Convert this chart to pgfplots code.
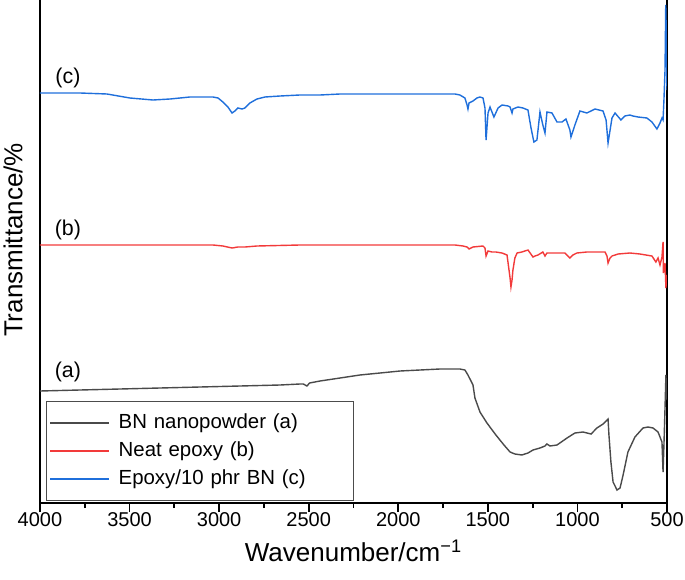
\documentclass[border=0pt]{standalone}
\usepackage{fontspec}
\setmainfont{Liberation Sans}
\usepackage{pgfplots}
\pgfplotsset{compat=1.18}
\definecolor{cA}{HTML}{4A4A4A}
\definecolor{cB}{HTML}{F23A3A}
\definecolor{cC}{HTML}{1F6FDB}
\begin{document}
\begin{tikzpicture}
\begin{axis}[
 name=ax,
 width=313.5pt, height=251.5pt, scale only axis,
 xmin=500, xmax=4000, ymin=0, ymax=503,
 x dir=reverse,
 axis x line*=bottom, axis y line*=box,
 axis line style={line width=1pt},
 ytick=\empty,
 xtick={500,1000,...,4000},
 minor x tick num=1,
 xtick align=outside,
 major tick length=4.5pt, minor tick length=2.5pt,
 every tick/.style={black, line width=0.9pt},
 tick label style={font=\fontsize{10}{12}\selectfont},
 xticklabel style={yshift=3.5pt},
 /pgf/number format/assume math mode=true,
 /pgf/number format/1000 sep={},
 xlabel={Wavenumber/cm\textsuperscript{\char"2212 1}},
 ylabel={Transmittance/\%},
 every axis x label/.style={at={(axis description cs:0.5,-0.0954)}, anchor=center, font=\fontsize{13}{15}\selectfont},
 every axis y label/.style={at={(axis description cs:-0.0431,0.523)}, anchor=center, rotate=90, font=\fontsize{13}{15}\selectfont},
 legend style={at={(axis description cs:0,0)}, anchor=south west, xshift=3pt, yshift=1pt, draw=black!70, line width=0.5pt, font=\fontsize{10.2}{12}\selectfont, inner xsep=1.5pt, inner ysep=3.75pt, row sep=0pt, column sep=2.5pt, nodes={inner sep=2pt, text height=7.5pt, text depth=2.5pt, text width=114pt, align=left}, cells={anchor=west}},
]
\addplot[cA, line width=0.7pt, legend image code/.code={\draw[cA, line width=0.6pt] (0pt,0pt) -- (29.5pt,0pt);}] coordinates {
(4000,112) (3777,113) (3553,114) (3330,115) (3107,116) (2884,117) (2660,118) (2549,119) (2530,119) (2510,117) (2495,120) (2437,122) (2325,125) (2214,128) (2102,130) (1990,132) (1879,133) (1767,134) (1683,134) (1656,134) (1628,133) (1611,128) (1583,118) (1572,105) (1544,91) (1505,80) (1455,68) (1410,58) (1376,51) (1349,49) (1310,48) (1276,50) (1248,53) (1209,55) (1181,57) (1170,59) (1153,57) (1114,58) (1058,65) (1014,70) (969,71) (924,69) (891,75) (857,79) (829,84) (824,68) (813,41) (801,21) (779,13) (762,15) (745,28) (718,51) (679,66) (634,75) (606,76) (578,75) (550,71) (528,61) (522,31) (517,58) (511,95) (506,128) (500,103)
};
\addlegendentry{BN nanopowder (a)}
\addplot[cB, line width=0.7pt, legend image code/.code={\draw[cB, line width=0.6pt] (0pt,0pt) -- (29.5pt,0pt);}] coordinates {
(4000,258) (3777,258) (3553,258) (3274,258) (3034,258) (2979,257) (2928,255) (2895,256) (2856,256) (2789,257) (2549,258) (2325,258) (2102,258) (1879,258) (1683,258) (1639,257) (1616,256) (1605,254) (1594,255) (1583,256) (1527,257) (1516,255) (1510,247) (1499,252) (1477,251) (1455,251) (1421,250) (1393,248) (1387,240) (1376,225) (1371,216) (1365,223) (1360,233) (1349,245) (1337,250) (1310,251) (1276,253) (1248,246) (1237,247) (1220,248) (1193,251) (1181,247) (1170,250) (1125,250) (1070,250) (1042,245) (1025,248) (1003,250) (947,251) (874,251) (846,251) (835,247) (829,240) (818,245) (807,247) (773,249) (707,250) (651,249) (584,247) (562,241) (550,245) (539,238) (528,246) (522,261) (520,230) (511,240) (506,215) (500,228)
};
\addlegendentry{Neat epoxy (b)}
\addplot[cC, line width=0.7pt, legend image code/.code={\draw[cC, line width=0.6pt] (0pt,0pt) -- (29.5pt,0pt);}] coordinates {
(4000,410) (3916,410) (3777,410) (3626,409) (3498,405) (3369,403) (3274,404) (3163,406) (3034,406) (3006,405) (2979,401) (2951,396) (2928,390) (2912,392) (2895,395) (2872,394) (2856,395) (2828,400) (2789,404) (2744,406) (2660,407) (2549,408) (2437,408) (2325,409) (2197,409) (2102,409) (1990,409) (1879,409) (1767,409) (1683,409) (1656,408) (1628,405) (1616,398) (1611,394) (1605,400) (1583,402) (1561,405) (1544,406) (1527,405) (1516,395) (1510,363) (1499,390) (1488,396) (1466,386) (1443,395) (1421,398) (1387,397) (1376,396) (1365,390) (1360,394) (1332,396) (1304,395) (1276,393) (1260,376) (1243,361) (1226,363) (1209,391) (1193,378) (1181,370) (1170,391) (1142,390) (1114,381) (1086,381) (1064,384) (1042,373) (1036,366) (1025,372) (1014,378) (986,392) (947,390) (902,394) (857,392) (840,383) (829,360) (807,385) (790,390) (757,383) (735,387) (707,388) (690,387) (662,386) (612,385) (584,381) (556,374) (539,380) (528,385) (522,383) (517,403) (511,433) (507,498) (503,463) (500,413)
};
\addlegendentry{Epoxy/10 phr BN (c)}
\node[font=\fontsize{10.7}{12}\selectfont] at (axis cs:3844,425) {(c)};
\node[font=\fontsize{10.7}{12}\selectfont] at (axis cs:3844,273) {(b)};
\node[font=\fontsize{10.7}{12}\selectfont] at (axis cs:3844,131) {(a)};
\end{axis}
\pgfresetboundingbox
\path[use as bounding box] ([xshift=-20pt,yshift=-38pt]ax.south west) rectangle ([xshift=9pt]ax.north east);
\end{tikzpicture}
\end{document}
